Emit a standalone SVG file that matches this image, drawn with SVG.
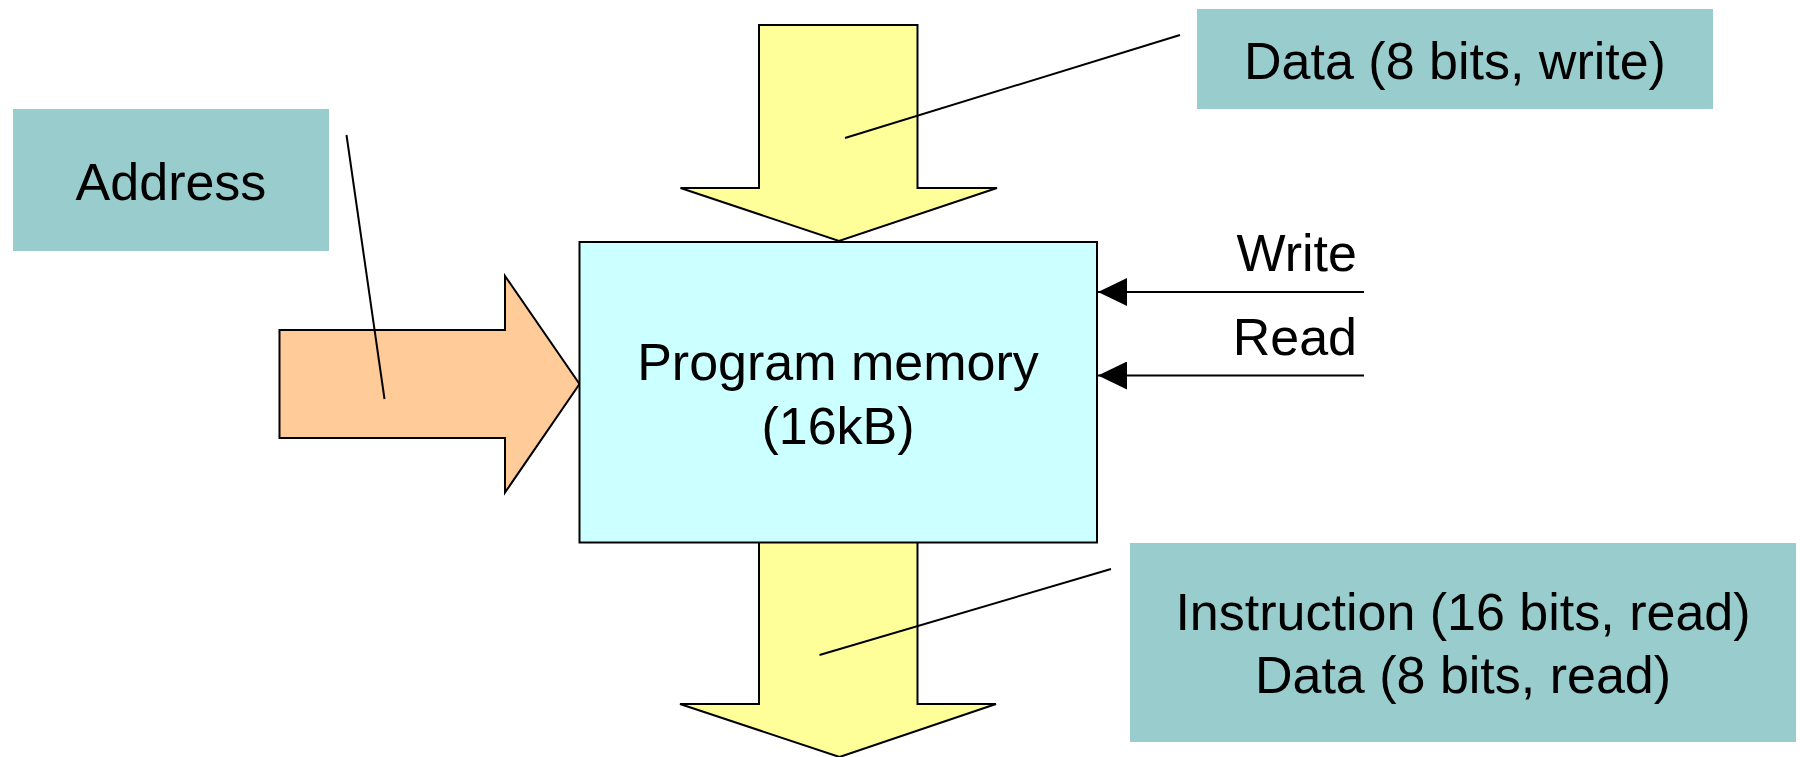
<svg xmlns="http://www.w3.org/2000/svg" width="1800" height="757" viewBox="0 0 1800 757">
  <style>
    .label { fill: #99CCCC; }
    .txt { font-family: "Liberation Sans", Arial, sans-serif; font-size: 52px; fill: #000; }
    .mid { text-anchor: middle; }
    .end { text-anchor: end; }
    .outline { stroke: #000; stroke-width: 2; stroke-linejoin: miter; }
    .leader { stroke: #000; stroke-width: 2; fill: none; }
    .signal { stroke: #000; stroke-width: 2; fill: none; marker-end: url(#head); }
  </style>
  <defs>
    <marker id="head" viewBox="0 0 29 28" refX="29" refY="14" markerWidth="29" markerHeight="28" markerUnits="userSpaceOnUse" orient="auto">
      <path d="M0,0 L29,14 L0,28 Z" fill="#000"/>
    </marker>
  </defs>

  <rect width="1800" height="757" fill="#fff"/>

  <!-- Data bus into memory (write) -->
  <g id="bus-data-in">
    <path class="outline" fill="#FFFF99" d="M759,25 L917.5,25 L917.5,188 L997,188 L839,241 L680.5,188 L759,188 Z"/>
  </g>

  <!-- Address bus -->
  <g id="bus-address">
    <path class="outline" fill="#FFCC99" d="M279.5,330 L505,330 L505,276 L579.5,384 L505,492.5 L505,438 L279.5,438 Z"/>
  </g>

  <!-- Output bus (instruction / data read) -->
  <g id="bus-data-out">
    <path class="outline" fill="#FFFF99" d="M759,542 L917.5,542 L917.5,704 L996,704 L839.5,757 L680,704 L759,704 Z"/>
  </g>

  <!-- Memory block -->
  <g id="program-memory">
    <rect class="outline" x="579.5" y="242" width="517.5" height="300.5" fill="#CCFFFF"/>
    <text class="txt mid" x="838" y="380">Program memory</text>
    <text class="txt mid" x="838" y="444">(16kB)</text>
  </g>

  <!-- Callout labels -->
  <g id="label-address">
    <rect class="label" x="13" y="109" width="316" height="142"/>
    <text class="txt mid" x="171" y="200">Address</text>
  </g>
  <g id="label-data-write">
    <rect class="label" x="1197" y="9" width="516" height="100"/>
    <text class="txt mid" x="1455" y="79">Data (8 bits, write)</text>
  </g>
  <g id="label-data-read">
    <rect class="label" x="1130" y="543" width="666" height="199"/>
    <text class="txt mid" x="1463" y="630">Instruction (16 bits, read)</text>
    <text class="txt mid" x="1463" y="693">Data (8 bits, read)</text>
  </g>

  <!-- Control signal names -->
  <g id="signal-labels">
    <text class="txt end" x="1357" y="271">Write</text>
    <text class="txt end" x="1357" y="355">Read</text>
  </g>

  <!-- Connectors: leader lines and control signals -->
  <g id="connectors">
    <line class="leader" x1="346.5" y1="135" x2="384.5" y2="399"/>
    <line class="leader" x1="845" y1="138" x2="1180" y2="35"/>
    <line class="leader" x1="819.5" y1="655" x2="1111" y2="569"/>
    <line class="signal" x1="1364" y1="292" x2="1098" y2="292"/>
    <line class="signal" x1="1364" y1="375.5" x2="1098" y2="375.5"/>
  </g>
</svg>
